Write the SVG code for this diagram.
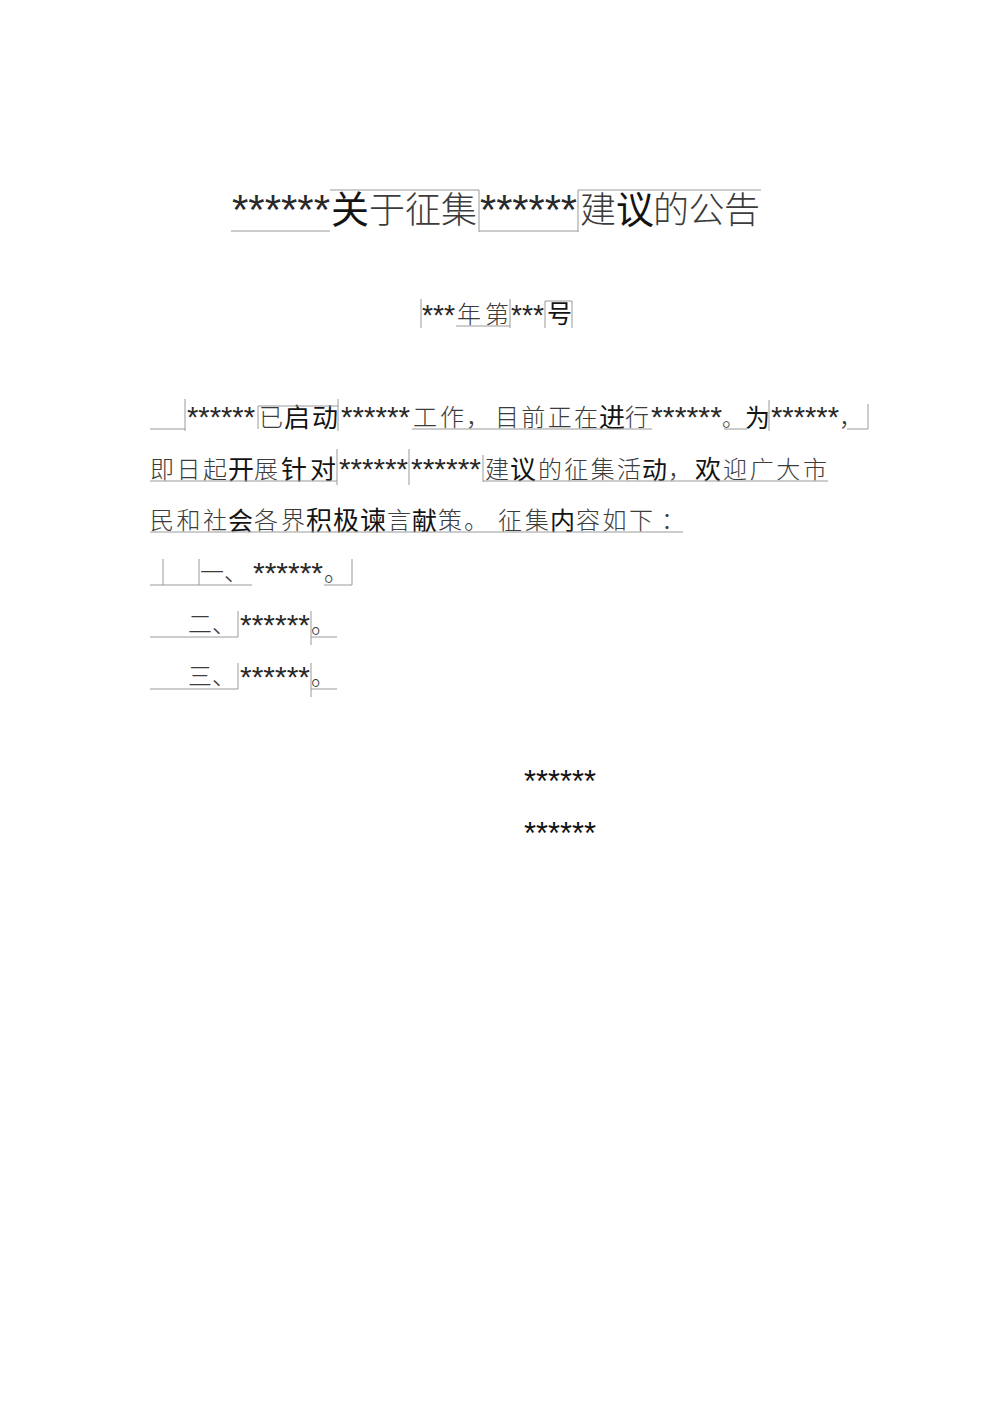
<svg xmlns="http://www.w3.org/2000/svg" width="992" height="1403" viewBox="0 0 992 1403">
<style>
text{font-family:"Noto Sans CJK SC","Noto Sans",sans-serif;fill:#3c3c3c;font-size:24px;font-weight:300}
.d{fill:#141414;font-weight:400;font-size:26px}
.h{font-size:36px}
.a{font-family:"Liberation Sans",Arial,sans-serif;font-size:29px;font-weight:400;fill:#2a2a2a}
.l{stroke:#9a9a9a;stroke-width:1;fill:none}
</style>
<rect width="992" height="1403" fill="#fff"/>
<g id="title">
<text class="a" x="232" y="224" textLength="98" lengthAdjust="spacingAndGlyphs" style="font-size:42px">******</text>
<text class="h d" x="331" y="223" style="font-size:38px">关</text>
<text class="h" x="369" y="223" textLength="108" lengthAdjust="spacing">于征集</text>
<text class="a" x="480" y="224" textLength="97" lengthAdjust="spacingAndGlyphs" style="font-size:42px">******</text>
<text class="h" x="580" y="223">建</text>
<text class="h d" x="616" y="223" style="font-size:38px">议</text>
<text class="h" x="653" y="223" textLength="107" lengthAdjust="spacing">的公告</text>
</g>
<g id="subtitle">
<text class="a" x="422" y="325" textLength="33" lengthAdjust="spacingAndGlyphs">***</text>
<text x="457" y="323" textLength="52" lengthAdjust="spacing">年第</text>
<text class="a" x="511" y="325" textLength="33" lengthAdjust="spacingAndGlyphs">***</text>
<text class="d" x="547" y="323" style="font-size:25px">号</text>
</g>
<g id="para">
<text class="a" x="187" y="427" textLength="68" lengthAdjust="spacingAndGlyphs">******</text>
<text x="259" y="426">已</text>
<text class="d" x="284" y="427" textLength="54" lengthAdjust="spacing">启动</text>
<text class="a" x="341" y="427" textLength="69" lengthAdjust="spacingAndGlyphs">******</text>
<text x="413" y="426" textLength="51" lengthAdjust="spacing">工作</text>
<text x="466" y="426">，</text>
<text x="495" y="426" textLength="103" lengthAdjust="spacing">目前正在</text>
<text class="d" x="599" y="427">进</text>
<text x="625" y="426">行</text>
<text class="a" x="651" y="427" textLength="71" lengthAdjust="spacingAndGlyphs">******</text>
<text x="722" y="426" style="font-size:22px">。</text>
<text class="d" x="745" y="427" style="font-size:25px">为</text>
<text class="a" x="771" y="427" textLength="68" lengthAdjust="spacingAndGlyphs">******</text>
<text x="839" y="426">，</text>

<text x="150" y="478" textLength="77" lengthAdjust="spacing">即日起</text>
<text class="d" x="228" y="479">开</text>
<text x="254" y="478">展</text>
<text class="d" x="281" y="479" textLength="55" lengthAdjust="spacing">针对</text>
<text class="a" x="339" y="479" textLength="69" lengthAdjust="spacingAndGlyphs">******</text>
<text class="a" x="411" y="479" textLength="70" lengthAdjust="spacingAndGlyphs">******</text>
<text x="485" y="478">建</text>
<text class="d" x="510" y="479">议</text>
<text x="538" y="478" textLength="103" lengthAdjust="spacing">的征集活</text>
<text class="d" x="642" y="479" style="font-size:25px">动</text>
<text x="668" y="478">，</text>
<text class="d" x="695" y="479">欢</text>
<text x="723" y="478" textLength="104" lengthAdjust="spacing">迎广大市</text>

<text x="150" y="529" textLength="77" lengthAdjust="spacing">民和社</text>
<text class="d" x="228" y="530" style="font-size:25px">会</text>
<text x="254" y="529" textLength="51" lengthAdjust="spacing">各界</text>
<text class="d" x="306" y="530" textLength="80" lengthAdjust="spacing">积极谏</text>
<text x="387" y="529">言</text>
<text class="d" x="412" y="530" style="font-size:25px">献</text>
<text x="438" y="529">策</text>
<text x="464" y="529">。</text>
<text x="498" y="529" textLength="51" lengthAdjust="spacing">征集</text>
<text class="d" x="550" y="530" style="font-size:25px">内</text>
<text x="576" y="529" textLength="77" lengthAdjust="spacing">容如下</text>
<text x="661" y="529">：</text>
</g>
<g id="list">
<text x="200" y="581">一、</text>
<text class="a" x="253" y="583" textLength="70" lengthAdjust="spacingAndGlyphs">******</text>
<text x="324" y="581">。</text>
<text x="188" y="633">二、</text>
<text class="a" x="240" y="635" textLength="70" lengthAdjust="spacingAndGlyphs">******</text>
<text x="311" y="633">。</text>
<text x="188" y="685">三、</text>
<text class="a" x="240" y="687" textLength="70" lengthAdjust="spacingAndGlyphs">******</text>
<text x="311" y="685">。</text>
</g>
<g id="signature">
<text class="a" x="524" y="792" textLength="72" lengthAdjust="spacingAndGlyphs" style="fill:#111;font-size:31px">******</text>
<text class="a" x="524" y="844" textLength="72" lengthAdjust="spacingAndGlyphs" style="fill:#111;font-size:31px">******</text>
</g>
<g id="connectors" class="l">
<path d="M231,231H330M330,190H479M479,190V232M479,231H578M578,190V232M578,190H761"/>
<path d="M421,299V328M456,326H510M510,299V328M545,301H572M545,301V328M572,301V328"/>
<path d="M150,429H185M185,399V431M258,406V429M258,406H338M338,399V431M412,429H652M724,429H747M769,400V431M847,429H868M868,404V429"/>
<path d="M150,481H337M337,449V485M409,449V485M483,455V482M483,481H828"/>
<path d="M150,532H683"/>
<path d="M150,585H252M163,559V585M199,559V585M324,585H352M352,559V585"/>
<path d="M150,637H238M238,611V637M311,611V645M311,637H337"/>
<path d="M150,689H238M238,663V689M311,663V697M311,689H337"/>
</g>
</svg>
